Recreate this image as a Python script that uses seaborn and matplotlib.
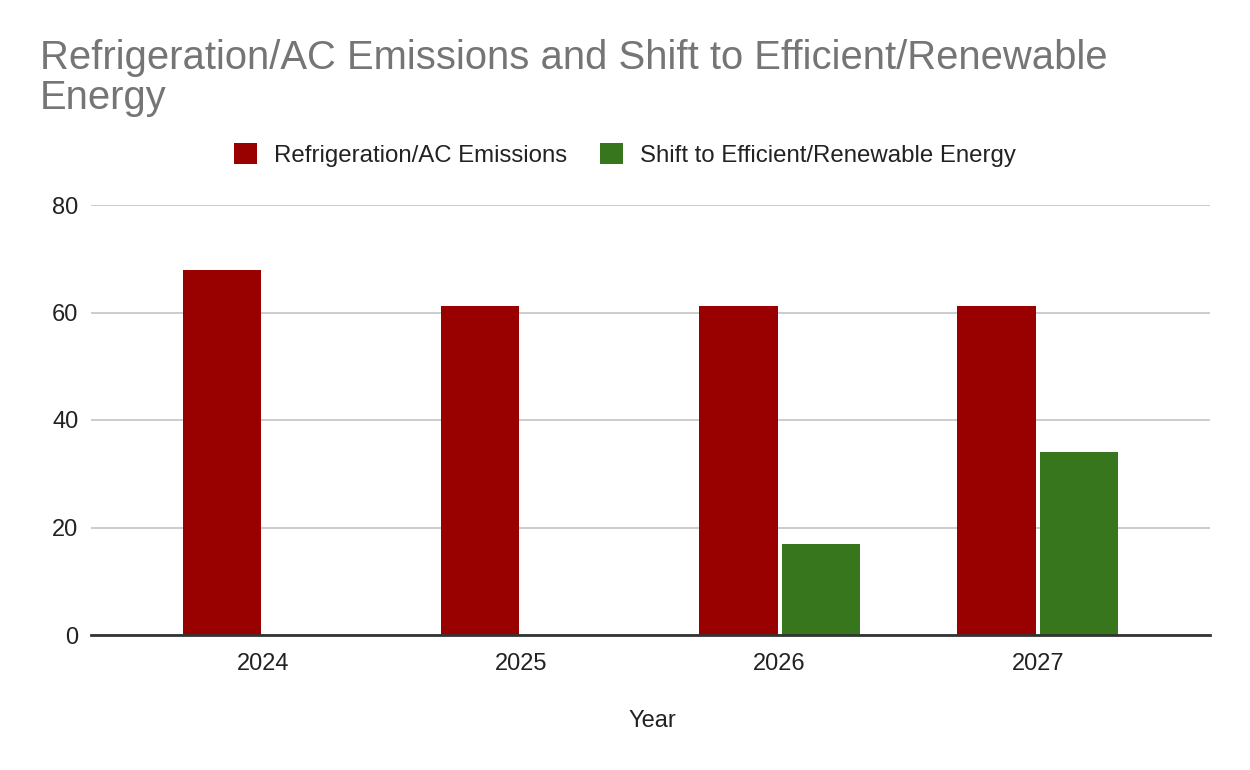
import matplotlib
matplotlib.use("Agg")
import matplotlib.pyplot as plt
from matplotlib.patches import Patch
import seaborn as sns
import pandas as pd

years = ["2024", "2025", "2026", "2027"]
emissions = [68, 61.2, 61.2, 61.2]
shift = [0, 0, 16.9, 34]
series_names = ["Refrigeration/AC Emissions", "Shift to Efficient/Renewable Energy"]
colors = ["#990000", "#38761d"]
yticks = [0, 20, 40, 60, 80]
title_lines = ["Refrigeration/AC Emissions and Shift to Efficient/Renewable", "Energy"]

df = pd.DataFrame({
    "Year": years * 2,
    "Value": emissions + shift,
    "Series": [series_names[0]] * len(years) + [series_names[1]] * len(years),
})

sns.set_style("white")
plt.rcParams["font.family"] = ["Liberation Sans", "DejaVu Sans"]

W, H = 1250, 770
fig = plt.figure(figsize=(12.5, 7.7), dpi=100)
ax = fig.add_axes([91 / W, 1 - 635 / H, (1210 - 91) / W, (635 - 205) / H])

sns.barplot(data=df, x="Year", y="Value", hue="Series", order=years,
            hue_order=series_names, palette=colors, width=0.64, gap=0.05,
            linewidth=0, saturation=1, legend=False, ax=ax, zorder=3)

ax.set_xlim(-0.667, 3.667)
ax.set_ylim(0, 80)
ax.set_yticks(yticks)
ax.set_yticklabels([str(t) for t in yticks])
ax.yaxis.grid(True, color="#cccccc", linewidth=1.4, zorder=0)
ax.set_axisbelow(True)
for s in ["top", "right", "left"]:
    ax.spines[s].set_visible(False)
ax.spines["bottom"].set_color("#333333")
ax.spines["bottom"].set_linewidth(2)
ax.spines["bottom"].set_zorder(4)
ax.tick_params(axis="both", length=0, labelsize=17, colors="#222222")
ax.tick_params(axis="y", pad=9)
ax.tick_params(axis="x", pad=13)
ax.set_ylabel("")
ax.set_xlabel("")

fig.text(652 / W, 1 - 727 / H, "Year", ha="center", va="baseline",
         fontsize=17, color="#222222")

fig.text(40 / W, 1 - 69 / H, title_lines[0], ha="left", va="baseline",
         fontsize=28.8, color="#757575")
fig.text(40 / W, 1 - 109 / H, title_lines[1], ha="left", va="baseline",
         fontsize=28.8, color="#757575")

handles = [Patch(facecolor=c, edgecolor="none") for c in colors]
fig.legend(handles, series_names, loc="center", bbox_to_anchor=(625 / W, 1 - 155 / H),
           ncol=2, frameon=False, fontsize=17.3, handlelength=0.95, handleheight=0.95,
           handletextpad=0.7, columnspacing=1.4, labelcolor="#222222",
           borderpad=0, borderaxespad=0)

fig.savefig("out.png", dpi=100, facecolor="white")
